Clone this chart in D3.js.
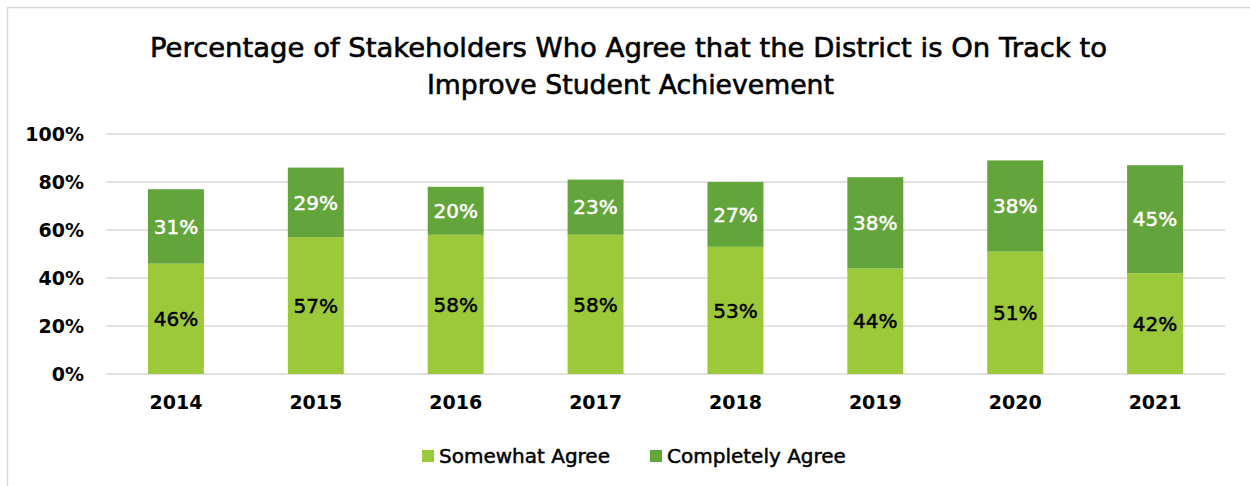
<!DOCTYPE html>
<html>
<head>
<meta charset="utf-8">
<script src="https://cdn.jsdelivr.net/npm/d3@7"></script>
<style>
  body { margin: 0; background: #fff; }
  text { font-family: "DejaVu Sans", sans-serif; }
</style>
</head>
<body>
<script>
// Data
const years = ['2014', '2015', '2016', '2017', '2018', '2019', '2020', '2021'];
const somewhat = [46, 57, 58, 58, 53, 44, 51, 42];
const completely = [31, 29, 20, 23, 27, 38, 38, 45];
const yTicks = [0, 20, 40, 60, 80, 100];
const seriesNames = ['Somewhat Agree', 'Completely Agree'];
const colors = ['#9BC93A', '#63A53A'];

const width = 1250, height = 486;
const margin = { left: 106, right: 25, top: 134, bottom: 112 };

const svg = d3.select('body').append('svg')
  .attr('width', width)
  .attr('height', height);

// chart frame (cropped at right and bottom)
svg.append('rect')
  .attr('x', 7.5).attr('y', 7.5)
  .attr('width', 1260).attr('height', 500)
  .attr('fill', 'none')
  .attr('stroke', '#d9d9d9')
  .attr('stroke-width', 1.5);

// Title
const title = svg.append('g')
  .attr('font-size', 27)
  .attr('fill', '#000')
  .attr('stroke', '#000')
  .attr('stroke-width', 0.6);
title.append('text').attr('x', 150).attr('y', 57)
  .attr('textLength', 957).attr('lengthAdjust', 'spacingAndGlyphs')
  .text('Percentage of Stakeholders Who Agree that the District is On Track to');
title.append('text').attr('x', 427).attr('y', 94)
  .attr('textLength', 407).attr('lengthAdjust', 'spacingAndGlyphs')
  .text('Improve Student Achievement');

const x = d3.scaleBand()
  .domain(years)
  .range([margin.left, width - margin.right])
  .paddingInner(0.6)
  .paddingOuter(0.3);

const y = d3.scaleLinear()
  .domain([0, 100])
  .range([height - margin.bottom, margin.top]);

// gridlines
svg.append('g')
  .selectAll('line')
  .data(yTicks)
  .enter()
  .append('line')
  .attr('x1', margin.left)
  .attr('x2', width - margin.right)
  .attr('y1', d => y(d))
  .attr('y2', d => y(d))
  .attr('stroke', '#d9d9d9')
  .attr('stroke-width', 1.5);

// y axis labels
const yAxis = svg.append('g')
  .attr('transform', `translate(${margin.left - 22},0)`)
  .call(d3.axisLeft(y).tickValues(yTicks).tickFormat(d => d + '%').tickSize(0).tickPadding(0));
yAxis.select('.domain').remove();
yAxis.selectAll('text')
  .attr('font-family', '"DejaVu Sans", sans-serif')
  .attr('font-size', 19)
  .attr('font-weight', 'bold')
  .attr('fill', '#000');

// x axis labels
const xAxis = svg.append('g')
  .attr('transform', `translate(0,${height - margin.bottom})`)
  .call(d3.axisBottom(x).tickSize(0).tickPadding(22));
xAxis.select('.domain').remove();
xAxis.selectAll('text')
  .attr('font-family', '"DejaVu Sans", sans-serif')
  .attr('font-size', 19)
  .attr('font-weight', 'bold')
  .attr('fill', '#000');

// stacked data
const rows = years.map((yr, i) => ({ year: yr, s: somewhat[i], c: completely[i] }));
const stack = d3.stack().keys(['s', 'c'])(rows);

const layer = svg.append('g')
  .selectAll('g')
  .data(stack)
  .enter()
  .append('g')
  .attr('fill', (d, i) => colors[i]);

layer.selectAll('rect')
  .data(d => d)
  .enter()
  .append('rect')
  .attr('x', d => x(d.data.year))
  .attr('width', x.bandwidth())
  .attr('y', d => y(d[1]))
  .attr('height', d => y(d[0]) - y(d[1]));

// value labels
layer.selectAll('text')
  .data(d => d)
  .enter()
  .append('text')
  .attr('x', d => x(d.data.year) + x.bandwidth() / 2)
  .attr('y', d => (y(d[0]) + y(d[1])) / 2)
  .attr('dy', '0.36em')
  .attr('text-anchor', 'middle')
  .attr('font-size', 20)
  .attr('stroke-width', 0.5)
  .each(function() {
    const c = d3.select(this.parentNode).datum().key === 'c' ? '#fff' : '#000';
    d3.select(this).attr('fill', c).attr('stroke', c);
  })
  .text(d => (d[1] - d[0]) + '%');

// legend
const legendItems = [
  { name: seriesNames[0], color: colors[0], x: 422 },
  { name: seriesNames[1], color: colors[1], x: 650 }
];
const legend = svg.append('g')
  .selectAll('g')
  .data(legendItems)
  .enter()
  .append('g')
  .attr('transform', d => `translate(${d.x},450)`);
legend.append('rect')
  .attr('width', 12).attr('height', 12)
  .attr('fill', d => d.color);
legend.append('text')
  .attr('x', 17)
  .attr('y', 6)
  .attr('dy', '0.36em')
  .attr('font-size', 20)
  .attr('fill', '#000')
  .attr('stroke', '#000')
  .attr('stroke-width', 0.5)
  .text(d => d.name);
</script>
</body>
</html>
